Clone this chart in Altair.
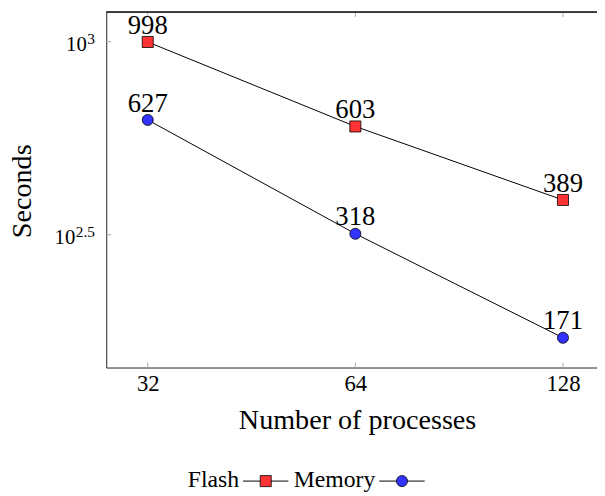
import altair as alt
import pandas as pd

processes = [32, 64, 128]
flash = [998, 603, 389]
memory = [627, 318, 171]
series_names = ["Flash", "Memory"]
series_colors = ["#ff3333", "#3333ff"]
series_shapes = ["square", "circle"]
x_ticks = [32, 64, 128]
y_ticks = [1000, 316.2278]
y_tick_bases = ["10", "10"]
y_tick_exponents = ["3", "2.5"]

FONT = "Liberation Serif"
W, H = 497, 360
SUP_FS = 15.5

rows = []
for p, f, m in zip(processes, flash, memory):
    rows.append({"Processes": p, "Seconds": f, "Series": "Flash"})
    rows.append({"Processes": p, "Seconds": m, "Series": "Memory"})
df = pd.DataFrame(rows)

xscale = alt.Scale(type="log", base=2, domain=[27.86, 143.4], nice=False)
yscale = alt.Scale(type="log", domain=[143.2, 1193], nice=False)

x_enc = alt.X("Processes:Q", scale=xscale, axis=alt.Axis(
    values=x_ticks, title="Number of processes", ticks=False, tickSize=0,
    grid=False, domainColor="#222", domainWidth=1, labelFont=FONT, labelFontSize=23,
    labelColor="black", labelBaseline="alphabetic", labelPadding=23.5,
    labelFlush=False, labelExpr="datum.value",
    titleFont=FONT, titleFontSize=28.5, titleFontWeight="normal", titleColor="black",
    titleX=254, titleY=61.5, titleBaseline="alphabetic", titleAnchor="start", titleAlign="center"))
y_enc = alt.Y("Seconds:Q", scale=yscale, axis=alt.Axis(
    values=y_ticks, title="Seconds", ticks=False, tickSize=0, grid=False, labels=False,
    domainColor="#222", domainWidth=1,
    titleFont=FONT, titleFontSize=28.5, titleFontWeight="normal", titleColor="black",
    titleX=-77, titleY=181, titleAngle=270, titleBaseline="alphabetic", titleAlign="center"))

base = alt.Chart(df)

lines = base.mark_line(color="black", strokeWidth=1).encode(
    x=x_enc, y=y_enc, detail="Series:N")

marker_layers = []
for name, col, shp in zip(series_names, series_colors, series_shapes):
    marker_layers.append(
        base.transform_filter(alt.datum.Series == name).mark_point(
            filled=True, size=125, stroke="black", strokeWidth=0.8, opacity=1,
            fill=col, shape=shp).encode(x="Processes:Q", y="Seconds:Q"))

labels = base.mark_text(font=FONT, fontSize=27, baseline="alphabetic", dy=-8.5, color="black").encode(
    x="Processes:Q", y="Seconds:Q", text="Seconds:Q")

xt = pd.DataFrame({"t": x_ticks})
yt = pd.DataFrame({"t": y_ticks, "base": y_tick_bases, "sup": y_tick_exponents})
xticks_bot = alt.Chart(xt).mark_rule(color="#aaa", strokeWidth=1).encode(
    x=alt.X("t:Q", scale=xscale), y=alt.value(H - 5), y2=alt.value(H))
xticks_top = alt.Chart(xt).mark_rule(color="#aaa", strokeWidth=1).encode(
    x=alt.X("t:Q", scale=xscale), y=alt.value(0), y2=alt.value(5))
yticks = alt.Chart(yt).mark_rule(color="#aaa", strokeWidth=1).encode(
    y=alt.Y("t:Q", scale=yscale), x=alt.value(0), x2=alt.value(5))

# y tick labels typeset as 10^{exp}: exponent right-aligned, base placed before it
ylabel_layers = [alt.Chart(yt).mark_text(font=FONT, fontSize=SUP_FS, align="right",
                                         baseline="alphabetic", dy=2, color="black").encode(
    y=alt.Y("t:Q", scale=yscale), x=alt.value(-11.5), text="sup:N")]
for s in y_tick_exponents:
    sup_w = sum(0.5 if c.isdigit() else 0.25 for c in s) * SUP_FS
    ylabel_layers.append(
        alt.Chart(yt).transform_filter(alt.datum.sup == s).mark_text(
            font=FONT, fontSize=21, align="right", baseline="alphabetic",
            dy=9.5, dx=-(sup_w + 0.5), color="black").encode(
            y=alt.Y("t:Q", scale=yscale), x=alt.value(-11.5), text="base:N"))

top_border = alt.Chart(xt).mark_rule(color="#222", strokeWidth=1).encode(
    x=alt.value(0), x2=alt.value(W), y=alt.value(0))

# legend below the plot: "label —marker—" for each series
LEG_Y = 475
leg_label_right = [134.5, 272.5]
legend_layers = []
one = pd.DataFrame({"k": [0]})
for name, col, shp, lx in zip(series_names, series_colors, series_shapes, leg_label_right):
    legend_layers.append(alt.Chart(one).mark_text(
        font=FONT, fontSize=24, align="right", baseline="alphabetic", color="black").encode(
        x=alt.value(lx), y=alt.value(LEG_Y + 6), text=alt.value(name)))
    legend_layers.append(alt.Chart(one).mark_rule(color="black", strokeWidth=1).encode(
        x=alt.value(lx + 4), x2=alt.value(lx + 50), y=alt.value(LEG_Y)))
    legend_layers.append(alt.Chart(one).mark_point(
        filled=True, size=125, stroke="black", strokeWidth=0.8, opacity=1,
        fill=col, shape=shp).encode(x=alt.value(lx + 27), y=alt.value(LEG_Y)))

chart = alt.layer(
    xticks_bot, xticks_top, yticks, top_border, *ylabel_layers, lines, *marker_layers,
    labels, *legend_layers
).properties(
    width=W, height=H,
    autosize=alt.AutoSizeParams(type="none"),
    padding={"left": 99.5, "top": 1, "right": 0, "bottom": 127},
).configure_view(stroke=None)

chart.save("out.html", embed_options={"renderer": "svg", "actions": False})
